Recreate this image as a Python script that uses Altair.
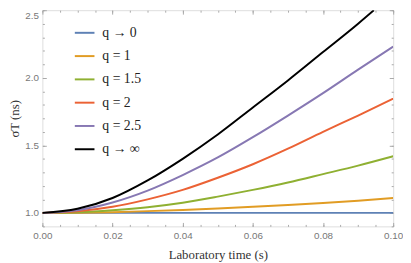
import altair as alt
import pandas as pd

# ---- data ----
series_names = ["q → 0", "q = 1", "q = 1.5", "q = 2", "q = 2.5", "q → ∞"]
series_colors = ["#5E81B5", "#E19C24", "#8FB032", "#EB6235", "#8778B3", "#000000"]

t_vals = [0.0, 0.01, 0.02, 0.03, 0.04, 0.05, 0.06, 0.07, 0.08, 0.09, 0.1]
q0 = [1.0, 1.0, 1.0, 1.0, 1.0, 1.0, 1.0, 1.0, 1.0, 1.0, 1.0]
q1 = [1.0, 1.001, 1.005, 1.013, 1.022, 1.033, 1.045, 1.058, 1.073, 1.09, 1.11]
q15 = [1.0, 1.005, 1.02, 1.042, 1.075, 1.12, 1.17, 1.225, 1.287, 1.35, 1.419]
q2 = [1.0, 1.012, 1.045, 1.10, 1.17, 1.26, 1.36, 1.475, 1.60, 1.72, 1.845]
q25 = [1.0, 1.02, 1.077, 1.165, 1.28, 1.41, 1.56, 1.72, 1.886, 2.06, 2.23]
t_inf = [0.0, 0.01, 0.02, 0.03, 0.04, 0.05, 0.06, 0.07, 0.08, 0.09, 0.0945]
qinf = [1.0, 1.03, 1.11, 1.24, 1.40, 1.58, 1.78, 1.98, 2.19, 2.40, 2.5]

x_labels = [0.0, 0.02, 0.04, 0.06, 0.08, 0.1]
y_labels = [1.0, 1.5, 2.0, 2.5]
x_minor = [round(i * 0.005, 3) for i in range(21)]
y_minor = [round(0.9 + i * 0.1, 1) for i in range(17)]

rows = []
for name, ts, vs in [
    (series_names[0], t_vals, q0),
    (series_names[1], t_vals, q1),
    (series_names[2], t_vals, q15),
    (series_names[3], t_vals, q2),
    (series_names[4], t_vals, q25),
    (series_names[5], t_inf, qinf),
]:
    for i, (tt, vv) in enumerate(zip(ts, vs)):
        rows.append({"t": tt, "v": vv, "series": name, "order": i})
df = pd.DataFrame(rows)

W, H = 357, 220
xs = alt.Scale(domain=[0, 0.1], nice=False, zero=False)
ys = alt.Scale(domain=[0.9, 2.5], nice=False, zero=False)

label_color = "#777777"
tick_color = "#a8a8a8"
serif = "Liberation Serif"
sans = "Liberation Sans"

base = alt.Chart(df)

lines = base.mark_line(strokeWidth=2, interpolate="monotone", clip=True).encode(
    x=alt.X(
        "t:Q",
        scale=xs,
        axis=alt.Axis(
            title="Laboratory time (s)",
            values=x_labels,
            format=".2f",
            ticks=False,
            domain=False,
            grid=False,
            labelColor=label_color,
            labelFont=sans,
            labelFontSize=10,
            labelPadding=4,
            labelFlush=False,
            titleFont=serif,
            titleFontSize=13,
            titleFontWeight="normal",
            titleColor="#333333",
            titlePadding=9,
        ),
    ),
    y=alt.Y(
        "v:Q",
        scale=ys,
        axis=alt.Axis(
            title="σT (ns)",
            values=y_labels,
            format=".1f",
            ticks=False,
            domain=False,
            grid=False,
            labelColor=label_color,
            labelFont=sans,
            labelFontSize=10,
            labelPadding=4,
            labelFlush=False,
            labelBaseline={"condition": {"test": "datum.value >= 2.45", "value": "top"}, "value": "middle"},
            titleFont=serif,
            titleFontSize=13,
            titleFontWeight="normal",
            titleColor="#333333",
            titlePadding=3,
        ),
    ),
    color=alt.Color(
        "series:N",
        scale=alt.Scale(domain=series_names, range=series_colors),
        sort=series_names,
        legend=alt.Legend(
            title=None,
            orient="none",
            legendX=32,
            legendY=12,
            symbolType="stroke",
            symbolSize=400,
            symbolStrokeWidth=2,
            labelFont=serif,
            labelFontSize=14,
            labelColor="#222222",
            labelOffset=7,
            rowPadding=5.7,
            padding=0,
        ),
    ),
    order="order:Q",
)


def tick_axis(orient, offset, values, size):
    return alt.Axis(
        orient=orient,
        offset=offset,
        values=values,
        labels=False,
        domain=False,
        grid=False,
        title=None,
        ticks=True,
        tickSize=size,
        tickColor=tick_color,
        tickWidth=1,
        tickOpacity=1,
    )


def ghost(xaxis=None, yaxis=None):
    return base.mark_point(opacity=0).encode(
        x=alt.X("t:Q", scale=xs, axis=xaxis),
        y=alt.Y("v:Q", scale=ys, axis=yaxis),
    )


layers = [
    lines,
    ghost(xaxis=tick_axis("top", -H, x_minor, 2)),       # bottom edge, minor, inward
    ghost(xaxis=tick_axis("top", -H, x_labels, 4)),      # bottom edge, major, inward
    ghost(xaxis=tick_axis("bottom", -H, x_minor, 2)),    # top edge, minor, inward
    ghost(xaxis=tick_axis("bottom", -H, x_labels, 4)),   # top edge, major, inward
    ghost(yaxis=tick_axis("right", -W, y_minor, 2)),     # left edge, minor, inward
    ghost(yaxis=tick_axis("right", -W, y_labels, 4)),    # left edge, major, inward
    ghost(yaxis=tick_axis("left", -W, y_minor, 2)),      # right edge, minor, inward
    ghost(yaxis=tick_axis("left", -W, y_labels, 4)),     # right edge, major, inward
]

chart = (
    alt.layer(*layers)
    .resolve_axis(x="independent", y="independent")
    .properties(
        width=W,
        height=H,
        autosize=alt.AutoSizeParams(type="none"),
        padding={"left": 35, "top": 0, "right": 10, "bottom": 34},
    )
    .configure_view(stroke="#8c8c8c", strokeWidth=1)
    .configure_legend(labelFont=serif)
    .configure(background="white")
)

chart.save("out.html", embed_options={"renderer": "svg", "actions": False})
